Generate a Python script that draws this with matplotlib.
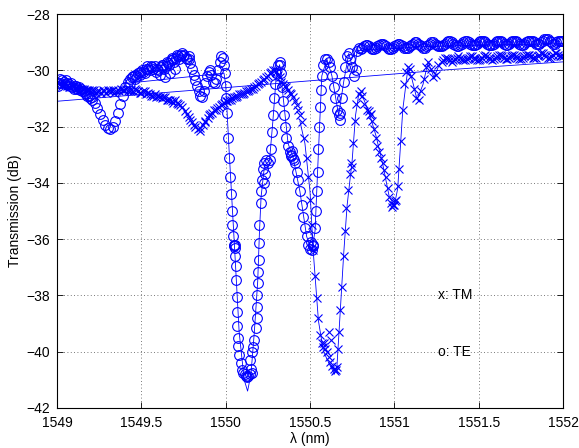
import numpy as np
import matplotlib
matplotlib.use("Agg")
import matplotlib.pyplot as plt

plt.rcParams['font.family'] = ['Liberation Sans', 'DejaVu Sans']

# ---------------- data ----------------
te_left = [
    (1549.000, -30.45), (1549.015, -30.30), (1549.030, -30.35), (1549.045, -30.50),
    (1549.060, -30.45), (1549.075, -30.55), (1549.090, -30.60), (1549.105, -30.55),
    (1549.120, -30.65), (1549.135, -30.70), (1549.150, -30.75), (1549.165, -30.80),
    (1549.180, -30.90), (1549.195, -31.00), (1549.210, -31.05), (1549.225, -31.15),
    (1549.240, -31.35), (1549.255, -31.55), (1549.270, -31.75), (1549.285, -31.95),
    (1549.300, -32.05), (1549.315, -32.10), (1549.330, -32.00), (1549.345, -31.80),
    (1549.360, -31.50), (1549.375, -31.20), (1549.390, -30.90), (1549.405, -30.60),
    (1549.420, -30.40), (1549.435, -30.30), (1549.450, -30.20), (1549.465, -30.15),
    (1549.480, -30.10), (1549.495, -30.15), (1549.510, -30.05), (1549.525, -29.95),
    (1549.540, -29.95), (1549.555, -29.85), (1549.570, -29.95), (1549.585, -30.05),
    (1549.600, -30.00), (1549.615, -29.90), (1549.630, -29.80), (1549.645, -29.85),
    (1549.660, -29.75), (1549.675, -29.65), (1549.690, -29.60), (1549.705, -29.55),
    (1549.720, -29.50), (1549.735, -29.45), (1549.750, -29.50), (1549.765, -29.55),
    (1549.610, -30.15), (1549.640, -30.25), (1549.670, -30.10), (1549.700, -29.95),
    (1549.780, -29.60), (1549.790, -29.75), (1549.800, -29.95), (1549.810, -30.15),
    (1549.820, -30.35), (1549.830, -30.55), (1549.840, -30.75), (1549.850, -30.90),
    (1549.860, -30.95), (1549.870, -30.75), (1549.880, -30.45), (1549.890, -30.20),
    (1549.900, -30.05), (1549.905, -30.00), (1549.915, -30.15), (1549.925, -30.40),
    (1549.935, -30.45), (1549.945, -30.30), (1549.955, -30.00), (1549.965, -29.70),
    (1549.975, -29.50), (1549.985, -29.55), (1549.990, -29.80), (1549.995, -30.10),
]

te_left_extra = [
    (1549.005, -30.55), (1549.020, -30.45), (1549.040, -30.40), (1549.055, -30.35),
    (1549.070, -30.50), (1549.085, -30.45), (1549.100, -30.65), (1549.115, -30.55),
    (1549.130, -30.60), (1549.145, -30.65), (1549.160, -30.75), (1549.175, -30.85),
    (1549.190, -30.90), (1549.205, -30.95), (1549.430, -30.45), (1549.445, -30.25),
    (1549.460, -30.30), (1549.475, -30.20), (1549.490, -30.05), (1549.505, -30.00),
    (1549.520, -30.10), (1549.535, -29.85), (1549.550, -30.00), (1549.565, -29.90),
    (1549.580, -29.85), (1549.595, -29.95), (1549.620, -29.80), (1549.635, -29.95),
    (1549.650, -29.70), (1549.665, -29.80), (1549.680, -29.55), (1549.695, -29.70),
    (1549.710, -29.45), (1549.725, -29.60), (1549.740, -29.40), (1549.755, -29.45),
    (1549.770, -29.60), (1549.785, -29.50),
]

te_dips = [
    (1550.000, -30.55), (1550.005, -31.00), (1550.010, -31.50), (1550.015, -32.40),
    (1550.020, -33.10), (1550.025, -33.80), (1550.030, -34.40), (1550.035, -35.00),
    (1550.040, -35.50), (1550.045, -35.90), (1550.050, -36.20), (1550.052, -36.25),
    (1550.055, -36.30), (1550.057, -36.20), (1550.058, -36.60), (1550.061, -36.95),
    (1550.062, -37.45), (1550.067, -38.05), (1550.068, -38.60), (1550.070, -39.10),
    (1550.073, -39.50), (1550.075, -39.80), (1550.079, -40.10), (1550.091, -40.40),
    (1550.097, -40.65), (1550.105, -40.75), (1550.115, -40.80), (1550.120, -40.85),
    (1550.126, -40.90), (1550.135, -40.85), (1550.145, -40.80), (1550.150, -40.60),
    (1550.155, -40.75), (1550.144, -40.30), (1550.156, -40.00), (1550.162, -39.85),
    (1550.168, -39.60), (1550.180, -39.15), (1550.186, -38.80), (1550.187, -38.40),
    (1550.188, -38.00), (1550.192, -37.55), (1550.193, -37.15), (1550.198, -36.75),
    (1550.199, -36.15), (1550.200, -35.50), (1550.209, -34.70), (1550.210, -34.30),
    (1550.215, -33.90), (1550.220, -33.50), (1550.230, -33.30), (1550.240, -33.20),
    (1550.250, -33.30), (1550.260, -33.20), (1550.225, -34.00), (1550.235, -33.70),
    (1550.270, -32.80), (1550.275, -32.20), (1550.280, -31.60), (1550.285, -31.00),
    (1550.290, -30.50), (1550.300, -30.10), (1550.310, -29.80), (1550.320, -29.70),
    (1550.325, -29.80), (1550.330, -30.10), (1550.335, -30.60), (1550.340, -31.10),
    (1550.345, -31.60), (1550.350, -32.00), (1550.360, -32.40), (1550.370, -32.70),
    (1550.380, -32.90), (1550.390, -33.00), (1550.400, -33.10), (1550.410, -33.30),
    (1550.385, -33.05), (1550.395, -32.85), (1550.405, -33.20),
    (1550.420, -33.60), (1550.430, -33.90), (1550.440, -34.30), (1550.450, -34.80),
    (1550.460, -35.20), (1550.470, -35.60), (1550.480, -35.90), (1550.490, -36.20),
    (1550.500, -36.35), (1550.505, -36.10), (1550.510, -36.40), (1550.515, -36.25),
    (1550.520, -36.20), (1550.530, -35.60), (1550.535, -35.00), (1550.540, -34.30),
    (1550.545, -33.60), (1550.550, -32.80), (1550.555, -32.00), (1550.560, -31.30),
    (1550.565, -30.70), (1550.570, -30.20), (1550.580, -29.80), (1550.590, -29.60),
    (1550.600, -29.60), (1550.610, -29.70), (1550.620, -29.90), (1550.630, -30.20),
    (1550.640, -30.60), (1550.650, -31.00), (1550.660, -31.40), (1550.670, -31.60),
    (1550.675, -31.75), (1550.680, -31.50), (1550.690, -31.00), (1550.700, -30.40),
    (1550.710, -29.90), (1550.720, -29.50), (1550.730, -29.40), (1550.740, -29.60),
    (1550.750, -29.90), (1550.760, -30.20), (1550.770, -30.00), (1550.780, -29.30),
    (1550.790, -29.20),
]

te_plateau = [
    (1550.80, -29.25), (1550.82, -29.15), (1550.84, -29.10), (1550.86, -29.20),
    (1550.88, -29.25), (1550.90, -29.15), (1550.92, -29.05), (1550.94, -29.10),
    (1550.96, -29.20), (1550.98, -29.25), (1551.00, -29.15), (1551.02, -29.05),
    (1551.04, -29.10), (1551.06, -29.20), (1551.08, -29.20), (1551.10, -29.10),
    (1551.12, -29.00), (1551.14, -29.05), (1551.16, -29.15), (1551.18, -29.20),
    (1551.20, -29.10), (1551.22, -29.00), (1551.24, -29.05), (1551.26, -29.15),
    (1551.28, -29.15), (1551.30, -29.05), (1551.32, -28.95), (1551.34, -29.00),
    (1551.36, -29.10), (1551.38, -29.15), (1551.40, -29.05), (1551.42, -28.95),
    (1551.44, -29.00), (1551.46, -29.10), (1551.48, -29.10), (1551.50, -29.00),
    (1551.52, -28.95), (1551.54, -29.00), (1551.56, -29.10), (1551.58, -29.10),
    (1551.60, -29.00), (1551.62, -28.95), (1551.64, -29.00), (1551.66, -29.10),
    (1551.68, -29.05), (1551.70, -28.95), (1551.72, -28.95), (1551.74, -29.05),
    (1551.76, -29.10), (1551.78, -29.00), (1551.80, -28.95), (1551.82, -28.95),
    (1551.84, -29.05), (1551.86, -29.05), (1551.88, -28.95), (1551.90, -28.90),
    (1551.92, -28.95), (1551.94, -29.05), (1551.96, -29.00), (1551.98, -28.95),
    (1552.00, -28.95),
]

te_plateau_extra = [
    (1550.81, -29.20), (1550.83, -29.10), (1550.85, -29.15), (1550.87, -29.25),
    (1550.89, -29.20), (1550.91, -29.10), (1550.93, -29.05), (1550.95, -29.15),
    (1550.97, -29.25), (1550.99, -29.20), (1551.01, -29.10), (1551.03, -29.05),
    (1551.05, -29.15), (1551.07, -29.20), (1551.09, -29.15), (1551.11, -29.05),
    (1551.13, -29.00), (1551.15, -29.10), (1551.17, -29.20), (1551.19, -29.15),
    (1551.21, -29.05), (1551.23, -29.00), (1551.25, -29.10), (1551.27, -29.15),
    (1551.29, -29.10), (1551.31, -29.00), (1551.33, -28.95), (1551.35, -29.05),
    (1551.37, -29.15), (1551.39, -29.10), (1551.41, -29.00), (1551.43, -28.95),
    (1551.45, -29.05), (1551.47, -29.10), (1551.49, -29.05), (1551.51, -28.95),
    (1551.53, -28.95), (1551.55, -29.05), (1551.57, -29.10), (1551.59, -29.05),
    (1551.61, -28.95), (1551.63, -28.95), (1551.65, -29.05), (1551.67, -29.10),
    (1551.69, -29.00), (1551.71, -28.95), (1551.73, -29.00), (1551.75, -29.10),
    (1551.77, -29.05), (1551.79, -28.95), (1551.81, -28.95), (1551.83, -29.00),
    (1551.85, -29.05), (1551.87, -29.00), (1551.89, -28.90), (1551.91, -28.90),
    (1551.93, -29.00), (1551.95, -29.05), (1551.97, -28.95), (1551.99, -28.95),
]

tm_left = [
    (1549.00, -30.40), (1549.02, -30.50), (1549.04, -30.45), (1549.06, -30.55),
    (1549.08, -30.60), (1549.10, -30.55), (1549.12, -30.65), (1549.14, -30.70),
    (1549.16, -30.65), (1549.18, -30.70), (1549.20, -30.75), (1549.22, -30.70),
    (1549.24, -30.75), (1549.26, -30.80), (1549.28, -30.75), (1549.30, -30.70),
    (1549.32, -30.75), (1549.34, -30.80), (1549.36, -30.70), (1549.38, -30.65),
    (1549.40, -30.70), (1549.42, -30.75), (1549.44, -30.70), (1549.46, -30.65),
    (1549.48, -30.75), (1549.50, -30.80), (1549.52, -30.75), (1549.54, -30.80),
    (1549.56, -30.90), (1549.58, -30.85), (1549.60, -30.90), (1549.62, -31.00),
    (1549.64, -30.95), (1549.66, -31.05), (1549.68, -31.10), (1549.70, -31.05),
    (1549.72, -31.20), (1549.74, -31.30), (1549.76, -31.45), (1549.78, -31.65),
    (1549.80, -31.85), (1549.82, -32.00), (1549.835, -32.10), (1549.85, -32.05),
    (1549.865, -31.95), (1549.88, -31.80), (1549.895, -31.70), (1549.91, -31.55),
    (1549.93, -31.40), (1549.95, -31.35), (1549.97, -31.25), (1549.99, -31.15),
    (1550.01, -31.10), (1550.03, -31.05), (1550.05, -30.95), (1550.07, -30.90),
    (1550.09, -30.85), (1550.11, -30.80), (1550.13, -30.75), (1550.15, -30.65),
    (1550.17, -30.60), (1550.19, -30.50), (1550.21, -30.40), (1550.23, -30.30),
    (1550.25, -30.20), (1550.27, -30.05), (1550.29, -30.00), (1550.31, -30.15),
    (1550.33, -30.40), (1550.35, -30.55), (1550.37, -30.70), (1550.39, -30.85),
    (1550.41, -31.10), (1550.43, -31.40),
]

tm_left_extra = [
    (1549.01, -30.45), (1549.03, -30.55), (1549.05, -30.50), (1549.07, -30.60),
    (1549.09, -30.55), (1549.11, -30.60), (1549.13, -30.70), (1549.15, -30.65),
    (1549.17, -30.75), (1549.19, -30.70), (1549.21, -30.70), (1549.23, -30.80),
    (1549.25, -30.75), (1549.27, -30.70), (1549.29, -30.80), (1549.31, -30.75),
    (1549.33, -30.70), (1549.35, -30.75), (1549.37, -30.75), (1549.39, -30.70),
    (1549.41, -30.65), (1549.43, -30.75), (1549.45, -30.75), (1549.47, -30.70),
    (1549.49, -30.80), (1549.51, -30.75), (1549.53, -30.85), (1549.55, -30.85),
    (1549.57, -30.90), (1549.59, -30.95), (1549.61, -30.95), (1549.63, -30.95),
    (1549.65, -31.05), (1549.67, -31.05), (1549.69, -31.15), (1549.71, -31.15),
    (1549.73, -31.25), (1549.77, -31.55), (1549.79, -31.75), (1549.81, -31.95),
    (1549.845, -32.15), (1549.875, -31.85), (1549.90, -31.60), (1549.92, -31.50),
    (1549.94, -31.40), (1549.96, -31.30), (1549.98, -31.20), (1550.00, -31.10),
    (1550.02, -31.05), (1550.04, -31.00), (1550.06, -30.95), (1550.08, -30.85),
    (1550.10, -30.85), (1550.12, -30.75), (1550.14, -30.70), (1550.16, -30.65),
    (1550.18, -30.55), (1550.20, -30.45), (1550.22, -30.35), (1550.24, -30.25),
    (1550.26, -30.10), (1550.28, -30.00), (1550.30, -30.05), (1550.32, -30.25),
    (1550.34, -30.50), (1550.36, -30.60), (1550.38, -30.80), (1550.40, -30.95),
    (1550.42, -31.25), (1550.44, -31.60),
]

tm_dips = [
    (1550.450, -31.85), (1550.465, -32.40), (1550.480, -33.10), (1550.490, -33.80),
    (1550.500, -34.60), (1550.510, -35.50), (1550.520, -36.40), (1550.530, -37.30),
    (1550.540, -38.10), (1550.550, -38.80), (1550.560, -39.40), (1550.570, -39.70),
    (1550.580, -39.85), (1550.585, -39.70), (1550.590, -39.90), (1550.600, -40.00),
    (1550.610, -39.30), (1550.625, -39.60), (1550.610, -40.20), (1550.620, -40.35),
    (1550.630, -40.50), (1550.640, -40.60), (1550.650, -40.70), (1550.655, -40.65),
    (1550.660, -40.55), (1550.665, -39.90), (1550.670, -39.30), (1550.680, -38.50),
    (1550.690, -37.70), (1550.700, -36.60), (1550.705, -35.70), (1550.715, -34.90),
    (1550.725, -34.25), (1550.735, -33.70), (1550.745, -33.30), (1550.750, -33.45),
    (1550.755, -32.60), (1550.765, -31.80), (1550.775, -31.20), (1550.790, -30.85),
    (1550.800, -30.75), (1550.810, -30.90), (1550.820, -31.20), (1550.835, -31.40),
    (1550.850, -31.45), (1550.855, -31.60), (1550.860, -31.55), (1550.870, -31.80),
    (1550.880, -32.10), (1550.890, -32.40), (1550.900, -32.70), (1550.910, -32.90),
    (1550.920, -33.10), (1550.930, -33.30), (1550.940, -33.55), (1550.950, -33.80),
    (1550.960, -34.20), (1550.970, -34.50), (1550.980, -34.70), (1550.985, -34.85),
    (1550.990, -34.80), (1551.000, -34.80), (1551.005, -34.65), (1551.010, -34.60),
    (1551.020, -34.10), (1551.030, -33.50), (1551.040, -32.50), (1551.050, -31.40),
    (1551.060, -30.50), (1551.070, -30.05), (1551.080, -29.90), (1551.090, -29.95),
    (1551.100, -30.20), (1551.115, -30.65), (1551.130, -31.00), (1551.145, -31.05),
    (1551.160, -30.75), (1551.175, -30.30), (1551.190, -29.90), (1551.200, -29.70),
    (1551.215, -29.95), (1551.230, -30.25), (1551.245, -30.15), (1551.260, -29.80),
]

tm_plateau = [
    (1551.28, -29.70), (1551.30, -29.55), (1551.32, -29.60), (1551.34, -29.70),
    (1551.36, -29.60), (1551.38, -29.50), (1551.40, -29.60), (1551.42, -29.65),
    (1551.44, -29.55), (1551.46, -29.50), (1551.48, -29.60), (1551.50, -29.65),
    (1551.52, -29.55), (1551.54, -29.45), (1551.56, -29.55), (1551.58, -29.65),
    (1551.60, -29.55), (1551.62, -29.45), (1551.64, -29.50), (1551.66, -29.60),
    (1551.68, -29.55), (1551.70, -29.45), (1551.72, -29.50), (1551.74, -29.60),
    (1551.76, -29.55), (1551.78, -29.45), (1551.80, -29.45), (1551.82, -29.55),
    (1551.84, -29.55), (1551.86, -29.45), (1551.88, -29.40), (1551.90, -29.50),
    (1551.92, -29.55), (1551.94, -29.45), (1551.96, -29.40), (1551.98, -29.50),
    (1552.00, -29.50),
]

tm_plateau_extra = [
    (1551.29, -29.65), (1551.31, -29.55), (1551.33, -29.65), (1551.35, -29.65),
    (1551.37, -29.55), (1551.39, -29.55), (1551.41, -29.65), (1551.43, -29.60),
    (1551.45, -29.50), (1551.47, -29.55), (1551.49, -29.65), (1551.51, -29.60),
    (1551.53, -29.50), (1551.55, -29.50), (1551.57, -29.60), (1551.59, -29.60),
    (1551.61, -29.50), (1551.63, -29.45), (1551.65, -29.55), (1551.67, -29.60),
    (1551.69, -29.50), (1551.71, -29.45), (1551.73, -29.55), (1551.75, -29.60),
    (1551.77, -29.50), (1551.79, -29.45), (1551.81, -29.50), (1551.83, -29.55),
    (1551.85, -29.50), (1551.87, -29.40), (1551.89, -29.45), (1551.91, -29.55),
    (1551.93, -29.50), (1551.95, -29.40), (1551.97, -29.45), (1551.99, -29.50),
]

# fitted curves (thin lines); NaN separates disconnected pieces
te_fit_wl = [1549.40, 1549.99, 1550.00, 1550.02, 1550.05, 1550.08, 1550.11, 1550.13,
             1550.15, 1550.17, 1550.19, 1550.20, 1550.21, 1550.23, 1550.26, 1550.28,
             1550.30, 1550.32, 1550.34, 1550.37, 1550.40, 1550.44, 1550.48, 1550.51,
             1550.53, 1550.55, 1550.57, 1550.60, 1550.63, 1550.67, 1550.70, 1550.73,
             1550.76, 1550.78, 1551.20, 1552.00]
te_fit_db = [-30.47, -30.10, -30.50, -32.80, -36.00, -39.30, -41.00, -41.40,
             -40.80, -39.30, -37.50, -35.80, -34.50, -33.40, -33.20, -31.80,
             -30.20, -29.80, -30.90, -32.60, -33.10, -34.30, -35.90, -36.45,
             -35.70, -32.90, -30.20, -29.60, -30.20, -31.60, -30.40, -29.40,
             -30.10, -29.30, -29.15, -29.05]

tm_fit_wl = [1549.00, 1551.27, 1552.00, np.nan,
             1550.44, 1550.47, 1550.50, 1550.52, 1550.55, 1550.58, 1550.62, 1550.645,
             1550.66, 1550.68, 1550.70, 1550.72, 1550.75, 1550.77, 1550.79, 1550.81,
             1550.85, 1550.89, 1550.93, 1550.97, 1551.00, 1551.02, 1551.05, 1551.08,
             1551.10, 1551.135, 1551.17, 1551.20, 1551.235, 1551.27]
tm_fit_db = [-31.10, -30.00, -29.70, np.nan,
             -31.80, -32.60, -34.30, -36.50, -38.90, -40.00, -40.50, -40.80,
             -40.50, -38.50, -36.50, -34.80, -33.20, -31.60, -30.80, -30.90,
             -31.50, -32.30, -33.30, -34.50, -34.80, -34.20, -31.40, -29.95,
             -30.20, -31.05, -30.50, -29.70, -30.25, -29.75]

x_ticks = [1549, 1549.5, 1550, 1550.5, 1551, 1551.5, 1552]
x_tick_labels = ['1549', '1549.5', '1550', '1550.5', '1551', '1551.5', '1552']
y_ticks = [-42, -40, -38, -36, -34, -32, -30, -28]

# ---------------- plot ----------------
te_wl, te_db = zip(*(te_left + te_left_extra + te_dips + te_plateau + te_plateau_extra))
tm_wl, tm_db = zip(*(tm_left + tm_left_extra + tm_dips + tm_plateau + tm_plateau_extra))

fig = plt.figure(figsize=(5.79, 4.48), dpi=100)
ax = fig.add_axes([0.0984, 0.0893, 0.874, 0.8794])

blue = (0, 0, 1)
ax.plot(te_fit_wl, te_fit_db, '-', color=blue, lw=0.6)
ax.plot(tm_fit_wl, tm_fit_db, '-', color=blue, lw=0.6)
ax.plot(te_wl, te_db, 'o', ls='none', mfc='none', mec=blue, ms=7, mew=0.8)
ax.plot(tm_wl, tm_db, 'x', ls='none', color=blue, ms=6, mew=0.8)

ax.set_xlim(1549, 1552)
ax.set_ylim(-42, -28)
ax.set_xticks(x_ticks)
ax.set_xticklabels(x_tick_labels)
ax.set_yticks(y_ticks)
ax.tick_params(direction='in', top=True, right=True, labelsize=10, length=4, width=0.6)
ax.tick_params(axis='x', pad=6)
ax.tick_params(axis='y', pad=5)
ax.grid(True, linestyle=(0, (1, 3)), color='0.3', lw=0.6)
for s in ax.spines.values():
    s.set_linewidth(0.8)

ax.set_xlabel('λ (nm)', fontsize=10, labelpad=1)
ax.set_ylabel('Transmission (dB)', fontsize=10, labelpad=3)

ax.text(1551.26, -38.0, 'x: TM', fontsize=10, va='center', ha='left')
ax.text(1551.26, -40.0, 'o: TE', fontsize=10, va='center', ha='left')

fig.savefig('out.png', dpi=100)
